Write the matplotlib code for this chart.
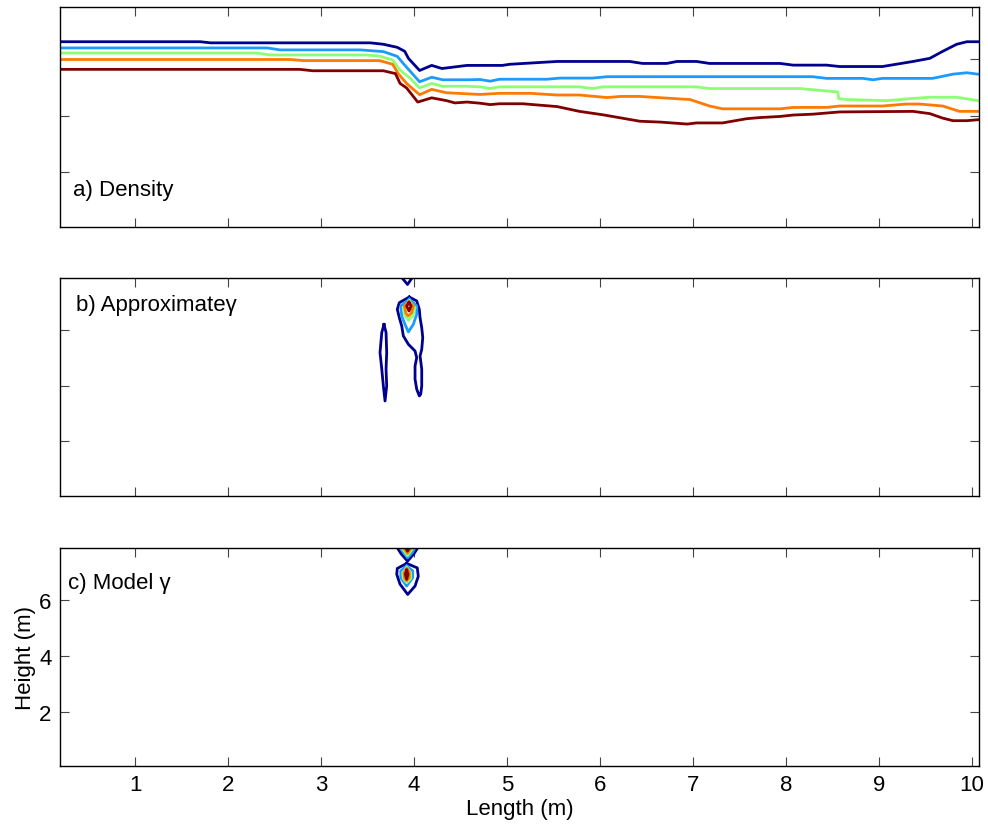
import numpy as np
import matplotlib
matplotlib.use('Agg')
import matplotlib.pyplot as plt

plt.rcParams['font.family'] = ['Liberation Sans', 'DejaVu Sans']

# contour colours (jet, 5 levels)
level_colors = ['#00008F', '#1C9BFF', '#8CFF73', '#FF7A00', '#800000']

# a) density contours
dens_x = [
    [0.19, 1.70, 1.81, 3.53, 3.67, 3.82, 3.90, 3.94, 4.06, 4.19, 4.30, 4.57, 4.95, 5.03, 5.54, 6.32, 6.46,
     6.72, 6.83, 7.04, 7.18, 7.94, 8.08, 8.44, 8.58, 9.04, 9.37, 9.55, 9.69, 9.84, 9.95, 10.09],
    [0.19, 2.42, 2.56, 3.42, 3.67, 3.82, 3.90, 4.06, 4.19, 4.31, 4.57, 4.71, 4.82, 4.92, 5.43, 5.57, 5.92,
     6.08, 8.29, 8.44, 8.83, 8.94, 9.04, 9.58, 9.80, 9.95, 10.09],
    [0.19, 2.31, 2.45, 3.49, 3.63, 3.77, 3.85, 3.96, 4.06, 4.19, 4.31, 4.57, 4.71, 4.82, 4.92, 5.78, 5.92,
     6.03, 7.04, 7.18, 8.15, 8.56, 8.57, 8.66, 9.09, 9.37, 9.55, 9.84, 10.09],
    [0.19, 2.67, 2.81, 3.63, 3.77, 3.83, 3.92, 4.06, 4.19, 4.35, 4.71, 4.92, 5.25, 5.54, 5.78, 6.08, 6.22,
     6.43, 6.72, 6.97, 7.18, 7.32, 7.94, 8.08, 8.44, 8.58, 9.04, 9.30, 9.44, 9.69, 9.87, 10.09],
    [0.19, 2.77, 2.91, 3.67, 3.80, 3.85, 3.92, 4.04, 4.19, 4.35, 4.44, 4.57, 4.71, 4.82, 4.92, 5.17, 5.54,
     5.78, 6.03, 6.43, 6.65, 6.94, 7.04, 7.32, 7.58, 7.72, 7.94, 8.08, 8.29, 8.58, 9.37, 9.55, 9.69, 9.80,
     9.95, 10.09],
]
dens_y = [
    [6.62, 6.62, 6.58, 6.58, 6.53, 6.42, 6.28, 6.03, 5.60, 5.78, 5.67, 5.78, 5.78, 5.82, 5.92, 5.92, 5.85,
     5.85, 5.92, 5.92, 5.85, 5.85, 5.79, 5.79, 5.74, 5.74, 5.92, 6.03, 6.28, 6.53, 6.62, 6.62],
    [6.40, 6.40, 6.33, 6.33, 6.27, 6.10, 5.79, 5.20, 5.36, 5.27, 5.27, 5.28, 5.22, 5.29, 5.29, 5.33, 5.33,
     5.38, 5.38, 5.32, 5.32, 5.27, 5.32, 5.32, 5.47, 5.52, 5.46],
    [6.22, 6.22, 6.15, 6.15, 6.11, 5.97, 5.61, 5.32, 4.98, 5.14, 5.04, 5.04, 5.02, 4.96, 5.02, 5.02, 4.96,
     5.02, 5.02, 4.96, 4.96, 4.84, 4.60, 4.57, 4.53, 4.61, 4.65, 4.65, 4.52],
    [5.99, 5.99, 5.95, 5.95, 5.82, 5.49, 5.14, 4.74, 4.93, 4.81, 4.75, 4.79, 4.79, 4.73, 4.73, 4.64, 4.68,
     4.68, 4.62, 4.57, 4.34, 4.24, 4.24, 4.29, 4.29, 4.34, 4.34, 4.41, 4.41, 4.34, 4.15, 4.15],
    [5.64, 5.64, 5.59, 5.59, 5.49, 5.14, 4.98, 4.48, 4.63, 4.53, 4.45, 4.48, 4.44, 4.39, 4.42, 4.42, 4.32,
     4.15, 4.03, 3.80, 3.77, 3.70, 3.74, 3.74, 3.89, 3.93, 3.97, 4.02, 4.05, 4.13, 4.15, 4.07, 3.91, 3.82,
     3.82, 3.86],
]

# b) approximate gamma contours: (level, closed, x, y)
approx_contours = [
    (0, False, [3.87, 3.93, 3.98], [7.86, 7.62, 7.86]),
    (0, True, [3.677, 3.653, 3.634, 3.653, 3.670, 3.688, 3.706, 3.699, 3.706, 3.699],
     [6.19, 5.90, 5.18, 4.59, 3.99, 3.45, 3.99, 4.59, 5.18, 5.90]),
    (0, True, [3.949, 4.029, 4.057, 4.065, 4.083, 4.094, 4.083, 4.065, 4.083, 4.083, 4.072, 4.057, 4.029,
               4.011, 4.011, 4.029, 4.011, 3.939, 3.885, 3.868, 3.842, 3.820, 3.842],
     [7.17, 7.03, 6.73, 6.43, 6.07, 5.72, 5.30, 5.06, 4.59, 3.99, 3.69, 3.63, 3.87,
      4.23, 4.70, 5.00, 5.24, 5.48, 5.78, 6.13, 6.43, 6.73, 6.97]),
    (1, True, [3.949, 4.029, 4.029, 3.992, 3.939, 3.903, 3.868, 3.857],
     [7.09, 6.85, 6.55, 6.19, 5.92, 6.19, 6.49, 6.85]),
    (2, True, [3.949, 4.011, 3.986, 3.939, 3.903, 3.885], [7.03, 6.79, 6.49, 6.34, 6.49, 6.79]),
    (3, True, [3.946, 3.992, 3.975, 3.939, 3.914, 3.896], [7.00, 6.85, 6.61, 6.49, 6.58, 6.85]),
    (4, True, [3.946, 3.968, 3.946, 3.921], [6.97, 6.85, 6.67, 6.85]),
]

# c) model gamma contours
model_contours = [
    (0, False, [3.82, 3.86, 3.93, 4.00, 4.04], [7.86, 7.65, 7.38, 7.65, 7.86]),
    (1, False, [3.85, 3.89, 3.93, 3.98, 4.01], [7.86, 7.68, 7.50, 7.68, 7.86]),
    (2, False, [3.87, 3.93, 3.99], [7.86, 7.58, 7.86]),
    (3, False, [3.89, 3.93, 3.97], [7.86, 7.66, 7.86]),
    (4, False, [3.91, 3.93, 3.95], [7.86, 7.74, 7.86]),
    (0, True, [3.921, 3.820, 3.814, 3.849, 3.932, 4.011, 4.046, 4.035],
     [7.30, 7.12, 6.91, 6.56, 6.19, 6.49, 6.84, 7.14]),
    (1, True, [3.921, 3.857, 3.857, 3.921, 3.986, 3.986], [7.21, 7.03, 6.79, 6.49, 6.79, 7.03]),
    (2, True, [3.921, 3.878, 3.885, 3.921, 3.964, 3.964], [7.15, 6.97, 6.76, 6.61, 6.76, 6.97]),
    (3, True, [3.921, 3.892, 3.900, 3.921, 3.949, 3.949], [7.11, 6.97, 6.76, 6.68, 6.79, 6.99]),
    (4, True, [3.921, 3.906, 3.921, 3.935], [7.06, 6.91, 6.73, 6.91]),
]

panel_labels = ['a) Density', 'b) Approximate\u03b3', 'c) Model \u03b3']
x_ticks = [1, 2, 3, 4, 5, 6, 7, 8, 9, 10]
y_ticks = [2, 4, 6]


def draw_contours(ax, contours):
    for lev, closed, xs, ys in contours:
        xs = list(xs)
        ys = list(ys)
        if closed:
            xs.append(xs[0])
            ys.append(ys[0])
        ax.plot(xs, ys, color=level_colors[lev], lw=2.0, solid_joinstyle='round')


fig = plt.figure(figsize=(9.88, 8.29), dpi=100)
ax_a = fig.add_axes([0.0607, 0.7250, 0.9302, 0.2653])
ax_b = fig.add_axes([0.0607, 0.4005, 0.9302, 0.2629])
ax_c = fig.add_axes([0.0607, 0.0748, 0.9302, 0.2629])

for i in range(5):
    ax_a.plot(dens_x[i], dens_y[i], color=level_colors[i], lw=2.0)
draw_contours(ax_b, approx_contours)
draw_contours(ax_c, model_contours)

label_pos = [(0.014, 0.17), (0.017, 0.88), (0.009, 0.84)]
for ax, lab, pos in zip([ax_a, ax_b, ax_c], panel_labels, label_pos):
    ax.set_xlim(0.19, 10.08)
    ax.set_ylim(0.05, 7.85)
    ax.set_xticks(x_ticks)
    ax.set_yticks(y_ticks)
    ax.tick_params(direction='in', length=6.5, width=0.8, color='#444444', top=True, right=True,
                   labelsize=16, pad=6)
    for sp in ax.spines.values():
        sp.set_linewidth(1.0)
    ax.text(pos[0], pos[1], lab, transform=ax.transAxes, fontsize=16, va='center', ha='left')

for ax in [ax_a, ax_b]:
    ax.set_xticklabels([])
    ax.set_yticklabels([])

ax_c.set_xlabel('Length (m)', fontsize=16, labelpad=2)
ax_c.set_ylabel('Height (m)', fontsize=16, labelpad=2)

fig.savefig('out.png', dpi=100)
